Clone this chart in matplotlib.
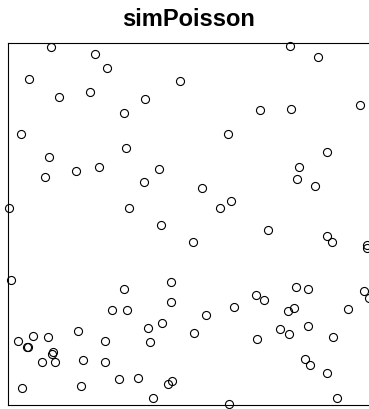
import numpy as np
import matplotlib
matplotlib.use("Agg")
import matplotlib.pyplot as plt

# simulated Poisson pattern in the unit square window
x = [0.119, 0.240, 0.273, 0.059, 0.475, 0.140, 0.227, 0.379, 0.320, 0.035,
     0.327, 0.113, 0.103, 0.189, 0.252, 0.418, 0.376, 0.003, 0.333, 0.779,
     0.856, 0.696, 0.783, 0.972, 0.609, 0.880, 0.803, 0.798, 0.847, 0.537,
     0.615, 0.586, 0.422, 0.007, 0.451, 0.321, 0.451, 0.288, 0.328, 0.425,
     0.386, 0.194, 0.028, 0.070, 0.111, 0.052, 0.055, 0.268, 0.393, 0.125,
     0.122, 0.093, 0.130, 0.208, 0.269, 0.306, 0.359, 0.452, 0.441, 0.038,
     0.202, 0.401, 0.511, 0.717, 0.882, 0.894, 0.992, 0.992, 0.796, 0.828,
     0.983, 0.997, 0.684, 0.707, 0.623, 0.547, 0.791, 0.774, 0.939, 0.751,
     0.776, 0.828, 0.514, 0.689, 0.898, 0.820, 0.834, 0.880, 0.908, 0.611]
y = [0.988, 0.969, 0.930, 0.901, 0.896, 0.852, 0.864, 0.846, 0.807, 0.748,
     0.711, 0.684, 0.631, 0.646, 0.658, 0.651, 0.617, 0.543, 0.545, 0.992,
     0.960, 0.816, 0.819, 0.830, 0.749, 0.699, 0.658, 0.625, 0.604, 0.599,
     0.564, 0.545, 0.496, 0.346, 0.339, 0.321, 0.284, 0.262, 0.262, 0.227,
     0.212, 0.204, 0.178, 0.191, 0.187, 0.161, 0.161, 0.177, 0.173, 0.147,
     0.141, 0.120, 0.120, 0.123, 0.120, 0.072, 0.074, 0.067, 0.058, 0.047,
     0.053, 0.019, 0.451, 0.483, 0.467, 0.451, 0.443, 0.433, 0.326, 0.321,
     0.316, 0.296, 0.305, 0.289, 0.271, 0.248, 0.268, 0.259, 0.265, 0.211,
     0.196, 0.219, 0.200, 0.183, 0.187, 0.128, 0.110, 0.088, 0.020, 0.002]

W, H = 369, 409
fig = plt.figure(figsize=(W / 100, H / 100), dpi=100)
ax = fig.add_axes([8 / W, 4 / H, 362 / W, 362 / H])
ax.plot(x, y, 'o', mfc='none', mec='black', ms=5.8, mew=0.8, clip_on=False)
ax.set_xlim(0, 1)
ax.set_ylim(0, 1)
ax.set_xticks([])
ax.set_yticks([])
for s in ax.spines.values():
    s.set_linewidth(0.8)

fig.text(189 / W, 1 - 20 / H, 'simPoisson', ha='center', va='center',
         fontsize=17, fontweight='bold', family='Liberation Sans')

fig.savefig('out.png', dpi=100)
